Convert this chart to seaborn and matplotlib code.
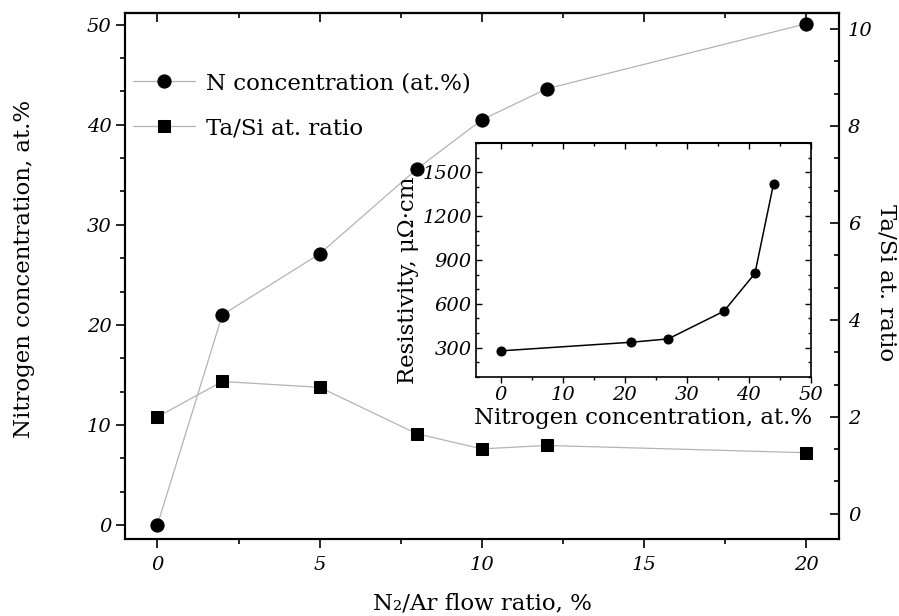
import matplotlib
matplotlib.use('Agg')
import matplotlib.pyplot as plt
import seaborn as sns
from matplotlib.ticker import MultipleLocator

# main panel: composition vs N2/Ar flow ratio
flow_ratio = [0, 2, 5, 8, 10, 12, 20]
n_conc = [0.0, 21.0, 27.1, 35.6, 40.5, 43.6, 50.1]
ta_si = [2.00, 2.73, 2.61, 1.65, 1.34, 1.41, 1.26]

# inset: resistivity vs nitrogen concentration
inset_n = [0, 21, 27, 36, 41, 44]
resistivity = [277, 336, 359, 549, 808, 1422]

sns.set_style('ticks')
plt.rcParams['font.family'] = ['DejaVu Serif']
plt.rcParams['font.style'] = 'italic'
plt.rcParams['axes.linewidth'] = 1.5
for k in ('text.color', 'axes.labelcolor', 'xtick.color', 'ytick.color', 'axes.edgecolor'):
    plt.rcParams[k] = 'black'

LABEL = 16.5
TICK = 14

fig = plt.figure(figsize=(8.99, 6.16), dpi=100)
ax = fig.add_axes([0.139, 0.125, 0.7942, 0.8544])
ax2 = ax.twinx()

sns.lineplot(x=flow_ratio, y=n_conc, ax=ax, color='#b4b4b4', lw=0.9,
             marker='o', ms=9.5, mfc='black', mec='black', label='N concentration (at.%)')
sns.lineplot(x=flow_ratio, y=ta_si, ax=ax2, color='#b4b4b4', lw=0.9,
             marker='s', ms=8.5, mfc='black', mec='black', label='Ta/Si at. ratio')
for a in (ax, ax2):
    if a.get_legend() is not None:
        a.get_legend().remove()

ax.set_xlim(-1, 21)
ax.set_ylim(-1.4, 51.2)
ax2.set_ylim(-0.52, 10.34)

ax.xaxis.set_major_locator(MultipleLocator(5))
ax.xaxis.set_minor_locator(MultipleLocator(2.5))
ax.yaxis.set_major_locator(MultipleLocator(10))
ax.yaxis.set_minor_locator(MultipleLocator(10 / 3))
ax2.yaxis.set_major_locator(MultipleLocator(2))
ax2.yaxis.set_minor_locator(MultipleLocator(2 / 3))

ax.tick_params(axis='both', which='both', direction='out', width=1.2, labelsize=TICK)
ax.tick_params(axis='both', which='major', length=6.5)
ax.tick_params(axis='both', which='minor', length=3.5)
ax.tick_params(axis='y', pad=3)
ax.tick_params(axis='x', pad=6)
ax2.tick_params(axis='y', which='both', direction='in', width=1.2, labelsize=TICK, pad=6.5)
ax2.tick_params(axis='y', which='major', length=6.5)
ax2.tick_params(axis='y', which='minor', length=3.5)

top = ax.secondary_xaxis('top')
top.xaxis.set_major_locator(MultipleLocator(5))
top.xaxis.set_minor_locator(MultipleLocator(2.5))
top.tick_params(which='both', direction='in', labeltop=False, width=1.2)
top.tick_params(which='major', length=6.5)
top.tick_params(which='minor', length=3.5)

for a in (ax, ax2):
    for s in a.spines.values():
        s.set_visible(True)
        s.set_linewidth(1.5)
        s.set_color('black')

ax.set_xlabel('N\u2082/Ar flow ratio, %', fontsize=LABEL, fontstyle='normal', va='center')
ax.xaxis.set_label_coords(0.5, -0.122)
ax.set_ylabel('Nitrogen concentration, at.%', fontsize=LABEL, fontstyle='normal', va='center')
ax.yaxis.set_label_coords(-0.141, 0.513)
ax2.set_ylabel('Ta/Si at. ratio', fontsize=LABEL, fontstyle='normal', rotation=-90, va='center')
ax2.yaxis.set_label_coords(1.067, 0.488)

ax.legend([ax.get_lines()[0], ax2.get_lines()[0]],
          ['N concentration (at.%)', 'Ta/Si at. ratio'],
          loc='upper left', bbox_to_anchor=(0.011, 0.887), borderaxespad=0, borderpad=0,
          frameon=False, handlelength=2.7, handletextpad=0.5, labelspacing=1.0,
          prop={'family': 'DejaVu Serif', 'style': 'normal', 'size': LABEL})

# inset
axi = fig.add_axes([0.5295, 0.3885, 0.3723, 0.3789])
axi.set_facecolor('white')
sns.lineplot(x=inset_n, y=resistivity, ax=axi, color='black', lw=1.1,
             marker='o', ms=6.5, mfc='black', mec='black')
axi.set_xlim(-4, 50)
axi.set_ylim(100, 1700)
axi.xaxis.set_major_locator(MultipleLocator(10))
axi.xaxis.set_minor_locator(MultipleLocator(5))
axi.yaxis.set_major_locator(MultipleLocator(300))
axi.yaxis.set_minor_locator(MultipleLocator(100))
axi.tick_params(axis='x', which='both', direction='out', width=1.0, labelsize=TICK, pad=3)
axi.tick_params(axis='y', which='both', direction='in', right=True, width=1.0, labelsize=TICK, pad=3)
axi.tick_params(which='major', length=4)
axi.tick_params(which='minor', length=2.5)
itop = axi.secondary_xaxis('top')
itop.xaxis.set_major_locator(MultipleLocator(10))
itop.xaxis.set_minor_locator(MultipleLocator(5))
itop.tick_params(which='both', direction='in', labeltop=False, width=1.0)
itop.tick_params(which='major', length=4)
itop.tick_params(which='minor', length=2.5)
for s in axi.spines.values():
    s.set_visible(True)
    s.set_linewidth(1.2)
    s.set_color('black')
axi.set_xlabel('Nitrogen concentration, at.%', fontsize=LABEL, fontstyle='normal', va='center')
axi.xaxis.set_label_coords(0.5, -0.177)
axi.set_ylabel('Resistivity, \u03bc\u03a9\u00b7cm', fontsize=LABEL, fontstyle='normal', va='center')
axi.yaxis.set_label_coords(-0.203, 0.414)

fig.savefig('out.png', dpi=100)
